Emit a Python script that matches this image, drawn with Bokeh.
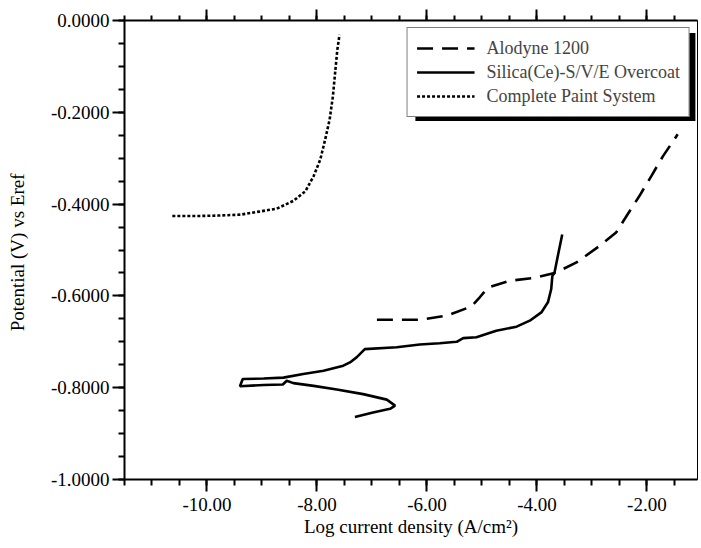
from bokeh.plotting import figure
from bokeh.models import (Range1d, FixedTicker, LinearAxis, Legend, LegendItem,
                          BoxAnnotation)
from bokeh.embed import file_html
from bokeh.resources import INLINE

# ---------------- data ----------------
paint_x = [-10.63, -10.2, -9.8, -9.39, -9.09, -8.73, -8.43, -8.21, -8.06, -7.94,
           -7.85, -7.77, -7.71, -7.67, -7.63, -7.59]
paint_y = [-0.426, -0.426, -0.425, -0.423, -0.417, -0.410, -0.393, -0.372, -0.339,
           -0.303, -0.259, -0.216, -0.165, -0.114, -0.064, -0.031]

silica_x = [-7.31, -6.98, -6.67, -6.58, -6.73, -7.16, -7.64, -8.06, -8.43, -8.55,
            -8.62, -8.97, -9.40, -9.35, -8.97, -8.61, -8.25, -7.88, -7.52, -7.40,
            -7.28, -7.13, -6.55, -6.13, -5.77, -5.46, -5.34, -5.10, -4.74, -4.37,
            -4.13, -3.92, -3.80, -3.74, -3.72, -3.68, -3.62, -3.54]
silica_y = [-0.864, -0.854, -0.846, -0.839, -0.826, -0.814, -0.804, -0.796, -0.790,
            -0.785, -0.793, -0.794, -0.797, -0.781, -0.780, -0.778, -0.770, -0.763,
            -0.752, -0.745, -0.734, -0.716, -0.712, -0.706, -0.703, -0.700, -0.692,
            -0.690, -0.676, -0.667, -0.654, -0.636, -0.614, -0.585, -0.557, -0.549,
            -0.513, -0.466]

alodyne_x = [-6.91, -6.13, -5.64, -5.19, -5.04, -4.89, -4.49, -4.01, -3.65, -3.28,
             -2.86, -2.56, -2.35, -2.14, -1.92, -1.71, -1.44]
alodyne_y = [-0.652, -0.652, -0.643, -0.623, -0.603, -0.582, -0.567, -0.560, -0.549,
             -0.527, -0.491, -0.462, -0.422, -0.383, -0.339, -0.296, -0.248]

series_names = ["Alodyne 1200", "Silica(Ce)-S/V/E Overcoat", "Complete Paint System"]

x_ticks = [-10, -8, -6, -4, -2]
x_tick_labels = ["-10.00", "-8.00", "-6.00", "-4.00", "-2.00"]
y_ticks = [0.0, -0.2, -0.4, -0.6, -0.8, -1.0]
y_tick_labels = ["0.0000", "-0.2000", "-0.4000", "-0.6000", "-0.8000", "-1.0000"]

X_MIN, X_MAX = -11.5, -1.08
Y_MIN, Y_MAX = -1.0, 0.0

x_minor = [X_MIN + 0.5 * i for i in range(int(round((X_MAX - X_MIN) / 0.5)) + 1)]
y_minor = [-0.05 * i for i in range(21)]

FONT = "Liberation Serif"

p = figure(width=699, height=546, output_backend="svg", toolbar_location=None,
           x_range=Range1d(X_MIN, X_MAX), y_range=Range1d(Y_MIN, Y_MAX),
           x_axis_label="Log current density (A/cm\u00b2)",
           y_axis_label="Potential (V)  vs Eref",
           min_border_left=124, min_border_right=2, min_border_top=20,
           min_border_bottom=67)
p.grid.visible = False
p.outline_line_color = "black"
p.outline_line_width = 1
p.background_fill_color = "white"
p.border_fill_color = "white"

xt = FixedTicker(ticks=x_ticks, minor_ticks=x_minor)
yt = FixedTicker(ticks=y_ticks, minor_ticks=y_minor)

xa = p.xaxis[0]
xa.ticker = xt
xa.major_label_overrides = dict(zip(x_ticks, x_tick_labels))
ya = p.yaxis[0]
ya.ticker = yt
ya.major_label_overrides = dict(zip(y_ticks, y_tick_labels))

for ax in (xa, ya):
    ax.axis_line_width = 2
    ax.major_tick_line_width = 2
    ax.minor_tick_line_width = 2
    ax.major_tick_in = 0
    ax.minor_tick_in = 0
    ax.major_tick_out = 12
    ax.minor_tick_out = 6
    ax.major_label_text_font = FONT
    ax.major_label_text_font_size = "19px"
    ax.axis_label_text_font = FONT
    ax.axis_label_text_font_size = "19px"
    ax.axis_label_text_font_style = "normal"
    ax.major_label_text_color = "black"
    ax.axis_label_text_color = "black"

xa.major_label_standoff = 6
xa.axis_label_standoff = 2
ya.major_label_standoff = 3
ya.axis_label_standoff = 20

top = LinearAxis(ticker=xt, axis_line_width=2, major_tick_line_width=2,
                 minor_tick_line_width=2, major_tick_in=0, minor_tick_in=0,
                 major_tick_out=11, minor_tick_out=5, major_label_standoff=0,
                 major_label_overrides={t: "" for t in x_ticks})
p.add_layout(top, "above")

LW = 2.6
r_alo = p.line(alodyne_x, alodyne_y, line_color="black", line_width=LW,
               line_dash="16 9")
r_sil = p.line(silica_x, silica_y, line_color="black", line_width=LW)
r_pai = p.line(paint_x, paint_y, line_color="black", line_width=LW,
               line_dash="3 2")

# legend drop shadow (right/bottom of legend box)
shadow = BoxAnnotation(left=-6.21, right=-1.118, top=-0.027, bottom=-0.219,
                       fill_color="black", fill_alpha=1.0, line_color=None,
                       level="annotation")
p.add_layout(shadow)

legend = Legend(items=[LegendItem(label=series_names[0], renderers=[r_alo]),
                       LegendItem(label=series_names[1], renderers=[r_sil]),
                       LegendItem(label=series_names[2], renderers=[r_pai])],
                location="top_right", margin=7, padding=9, spacing=2,
                glyph_width=58, glyph_height=22, label_standoff=12,
                label_text_font=FONT, label_text_font_size="18px",
                label_height=22,
                border_line_color="black", border_line_width=1.5,
                background_fill_color="white", background_fill_alpha=1.0)
p.add_layout(legend)

open("out.html", "w").write(file_html(p, INLINE))
